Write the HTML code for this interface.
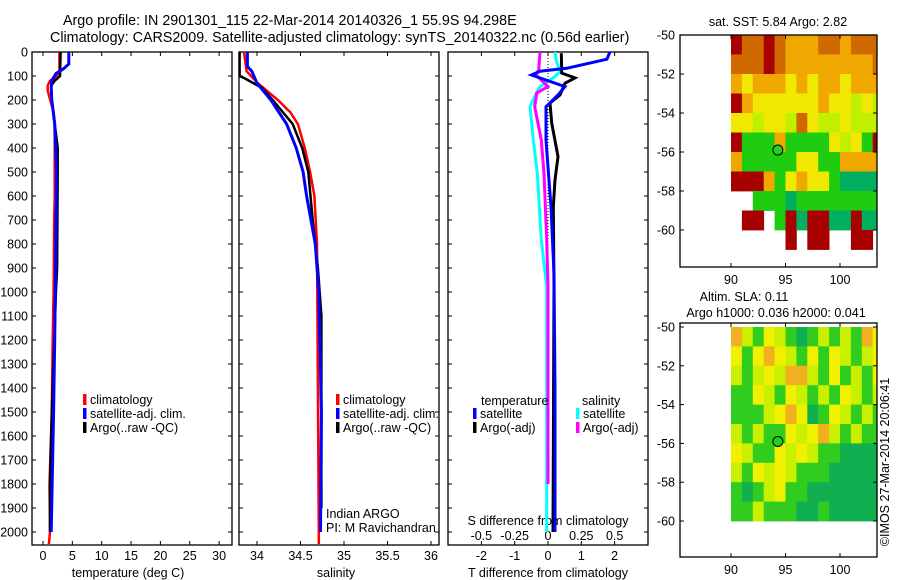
<!DOCTYPE html>
<html><head><meta charset="utf-8">
<style>
html,body{margin:0;padding:0;background:#fff;}
svg{display:block;font-family:"Liberation Sans",Arial,sans-serif;}
text{fill:#000;}
</style></head>
<body>
<svg id="chart" width="900" height="580" viewBox="0 0 900 580" xmlns="http://www.w3.org/2000/svg">
<text x="63" y="25" font-size="14.3">Argo profile: IN 2901301_115 22-Mar-2014 20140326_1 55.9S 94.298E</text>
<text x="50" y="42" font-size="14.3">Climatology: CARS2009. Satellite-adjusted climatology: synTS_20140322.nc (0.56d earlier)</text>
<g id="g"></g>
</svg>
<script>
// ---------- profile data ----------
const depthTick = [0,100,200,300,400,500,600,700,800,900,1000,1100,1200,1300,1400,1500,1600,1700,1800,1900,2000];
const tempTicks = [0,5,10,15,20,25,30];
const salTicks = [34,34.5,35,35.5,36];
const tdiffTicks = [-2,-1,0,1,2];
const sdiffTicks = [-0.5,-0.25,0,0.25,0.5];
const sdiffTickLabels = ["-0.5","-0.25","0","0.25","0.5"];

const tClimDepth = [0,80,100,120,140,160,190,250,300,600,700,1000,1200,1500,1800,2000,2050];
const tClimVal   = [2.8,2.8,2.3,1.2,0.8,0.8,1.1,1.8,2.0,2.0,1.9,1.8,1.65,1.5,1.1,1.2,1.0];
const tSatDepth = [0,50,70,90,120,150,200,300,500,1000,1200,1500,2000];
const tSatVal   = [4.4,4.4,3.5,2.2,1.5,1.4,1.5,2.0,2.3,2.1,2.0,1.8,1.4];
const tArgoDepth = [0,100,120,140,200,400,500,900,1000,1500,1800,2000];
const tArgoVal   = [3.0,2.9,2.0,1.4,1.5,2.5,2.5,2.4,2.2,1.5,1.2,1.2];

const sClimDepth = [0,80,130,200,250,300,400,500,600,800,2000,2050];
const sClimVal   = [33.85,33.88,34.01,34.24,34.38,34.47,34.55,34.61,34.66,34.69,34.71,34.71];
const sSatDepth = [0,60,80,130,200,300,400,500,600,800,1000,1500,2000];
const sSatVal   = [33.89,33.89,33.94,34.0,34.16,34.34,34.45,34.53,34.57,34.67,34.71,34.74,34.73];
const sArgoDepth = [0,100,110,150,200,300,400,500,700,900,1100,1500,1900];
const sArgoVal   = [33.8,33.8,33.86,34.06,34.18,34.41,34.52,34.59,34.64,34.70,34.74,34.74,34.74];

const dTSatDepth = [0,30,68,80,96,144,179,228,367,645,922,1400,2000];
const dTSatVal   = [1.86,1.77,0.56,-0.24,-0.5,0.51,0.3,-0.06,-0.06,0.09,0.18,0.21,0.21];
const dTArgoDepth = [5,88,108,130,179,213,296,436,533,645,978,2000];
const dTArgoVal   = [0.4,0.41,0.81,0.51,0.36,0.06,0.11,0.3,0.21,0.16,0.18,0.15];
const dSSatDepth = [0,33,82,103,144,186,228,367,505,783,978,2000];
const dSSatVal   = [0.053,0.06,0.09,0.05,-0.06,-0.10,-0.135,-0.11,-0.08,-0.05,-0.01,-0.01];
const dSArgoDepth = [0,75,96,117,144,171,228,367,505,783,978,1800];
const dSArgoVal   = [-0.06,-0.07,-0.09,-0.05,0,-0.085,-0.10,-0.05,-0.03,-0.01,0,0];

// ---------- map data (colour class per 1-degree cell, rows from north) ----------
const mapLon = [90,91,92,93,94,95,96,97,98,99,100,101,102,103];
const sstLat = [-50,-51,-52,-53,-54,-55,-56,-57,-58,-59,-60];
const sstGrid = [
[1,2,2,1,2,3,3,3,2,2,3,2,2,2],
[2,2,2,1,2,3,3,3,3,3,3,3,3,2],
[3,4,3,3,3,4,3,4,3,3,4,3,3,3],
[1,3,4,4,4,4,4,4,3,4,4,5,4,5],
[4,4,5,4,4,5,2,4,5,5,4,5,5,5],
[1,6,6,6,3,6,6,6,6,4,5,4,6,1],
[3,6,6,6,6,6,4,4,6,6,3,3,3,3],
[1,1,1,3,6,4,3,4,4,6,7,7,7,7],
[0,0,6,6,6,7,6,6,6,6,6,6,6,6],
[0,1,1,0,6,1,7,1,1,7,7,1,7,7],
[0,0,0,0,0,1,0,1,1,0,0,1,1,0]];
const slaLat = [-50,-51,-52,-53,-54,-55,-56,-57,-58,-59];
const slaGrid = [
[3,5,6,4,5,6,7,6,5,6,5,6,3,4],
[4,6,4,3,4,5,6,4,6,4,5,6,5,4],
[5,6,5,4,5,3,3,5,6,4,6,5,6,4],
[6,6,4,5,6,4,5,6,5,6,4,5,6,5],
[6,6,6,5,4,3,4,7,6,4,5,6,5,6],
[5,6,5,6,6,4,5,4,3,5,6,5,6,6],
[4,5,6,6,4,5,4,5,6,6,7,7,7,7],
[5,6,4,5,4,5,6,6,6,7,7,7,7,7],
[6,7,6,5,4,6,6,7,7,7,7,7,7,7],
[6,6,5,6,6,6,7,7,6,7,7,7,7,7]];
const mapLonTicks = [90,95,100];
const mapLatTicks = [-50,-52,-54,-56,-58,-60];
const argoLon = 94.3, argoLat = -55.9;

const palette = ["none","#a80000","#d06a00","#f0a800","#f0e800","#c0f000","#20cc10","#00b060"];
const slaPalette = ["none","#a80000","#e07020","#f0b020","#f0f000","#c8f000","#30cc20","#10b050"];

const NS="http://www.w3.org/2000/svg";
const G=document.getElementById('g');
function mk(tag,attrs,parent){const e=document.createElementNS(NS,tag);for(const k in attrs)e.setAttribute(k,attrs[k]);(parent||G).appendChild(e);return e;}
function txt(x,y,s,size,anchor,parent){const t=mk('text',{x:x,y:y,'font-size':size||12.5,'text-anchor':anchor||'start'},parent);t.textContent=s;return t;}

const yD = d => 52 + d*0.24;
const TOP=52, BOT=545;

function panel(name,x0,x1){
  const g=mk('g',{});
  
  
  const r=mk('rect',{x:x0,y:TOP,width:x1-x0,height:BOT-TOP,fill:'none',stroke:'#000','stroke-width':1.3},g);
  
  
  depthTick.forEach(d=>{
    mk('line',{x1:x0,x2:x0+4,y1:yD(d),y2:yD(d),stroke:'#000'},g);
    mk('line',{x1:x1,x2:x1-4,y1:yD(d),y2:yD(d),stroke:'#000'},g);
  });
  return g;
}
function profile(g,name,depths,vals,sx,color,w){
  let pts=[];
  for(let i=0;i<depths.length;i++){pts.push(sx(vals[i]).toFixed(1)+','+yD(depths[i]).toFixed(1));}
  const p=mk('polyline',{points:pts.join(' '),fill:'none',stroke:color,'stroke-width':w||3,'stroke-linejoin':'miter'},g);
  
  
}
function legend(g,x,y,color,label){
  const it=mk('g',{},g);
  
  
  mk('rect',{x:x,y:y-10,width:3.5,height:11,fill:color},it);
  txt(x+7,y,label,12.5,'start',it);
}

// ---- panel 1 temperature ----
const sxT = v => 43 + v*5.87;
const p1=panel('temperature-panel',32,232);
const ylab=mk('g',{});


depthTick.forEach(d=>txt(28,yD(d)+4.5,String(d),12.5,'end',ylab));
tempTicks.forEach(v=>{
  mk('line',{x1:sxT(v),x2:sxT(v),y1:BOT,y2:BOT-4,stroke:'#000'},p1);
  mk('line',{x1:sxT(v),x2:sxT(v),y1:TOP,y2:TOP+4,stroke:'#000'},p1);
  txt(sxT(v),560,String(v),12.5,'middle',p1);
});
const t1=txt(128,577,'temperature (deg C)',12.5,'middle',p1);

profile(p1,'temperature-climatology-line',tClimDepth,tClimVal,sxT,'#ff0000',2.5);
profile(p1,'temperature-argo-line',tArgoDepth,tArgoVal,sxT,'#000000',2.5);
profile(p1,'temperature-satellite-line',tSatDepth,tSatVal,sxT,'#0000ff',3);
legend(p1,83,404,'#ff0000','climatology');
legend(p1,83,418,'#0000ff','satellite-adj. clim.');
legend(p1,83,432,'#000000','Argo(..raw -QC)');

// ---- panel 2 salinity ----
const sxS = v => 257 + (v-34)*87;
const p2=panel('salinity-panel',239,439);
salTicks.forEach(v=>{
  mk('line',{x1:sxS(v),x2:sxS(v),y1:BOT,y2:BOT-4,stroke:'#000'},p2);
  mk('line',{x1:sxS(v),x2:sxS(v),y1:TOP,y2:TOP+4,stroke:'#000'},p2);
  txt(sxS(v),560,String(v),12.5,'middle',p2);
});
const t2=txt(336,577,'salinity',12.5,'middle',p2);

profile(p2,'salinity-climatology-line',sClimDepth,sClimVal,sxS,'#ff0000',2.5);
profile(p2,'salinity-argo-line',sArgoDepth,sArgoVal,sxS,'#000000',2.5);
profile(p2,'salinity-satellite-line',sSatDepth,sSatVal,sxS,'#0000ff',3);
legend(p2,336,404,'#ff0000','climatology');
legend(p2,336,418,'#0000ff','satellite-adj. clim.');
legend(p2,336,432,'#000000','Argo(..raw -QC)');
const pi=mk('g',{},p2);


txt(326,518,'Indian ARGO',12.5,'start',pi);
txt(326,532,'PI: M Ravichandran',12.5,'start',pi);

// ---- panel 3 differences ----
const sxdT = v => 548 + v*33.3;
const sxdS = v => 548 + v*133.3;
const p3=panel('difference-panel',448,648);
mk('line',{x1:548,x2:548,y1:TOP,y2:yD(1800),stroke:'#000','stroke-dasharray':'1,2'},p3);
tdiffTicks.forEach(v=>{
  mk('line',{x1:sxdT(v),x2:sxdT(v),y1:BOT,y2:BOT-4,stroke:'#000'},p3);
  mk('line',{x1:sxdT(v),x2:sxdT(v),y1:TOP,y2:TOP+4,stroke:'#000'},p3);
  txt(sxdT(v),560,String(v),12.5,'middle',p3);
});
sdiffTicks.forEach((v,i)=>txt(sxdS(v),540,sdiffTickLabels[i],12.5,'middle',p3));
const t3a=txt(548,525,'S difference from climatology',12.5,'middle',p3);

const t3b=txt(548,577,'T difference from climatology',12.5,'middle',p3);

profile(p3,'salinity-satellite-diff-line',dSSatDepth,dSSatVal,sxdS,'#00ffff',3);
profile(p3,'salinity-argo-diff-line',dSArgoDepth,dSArgoVal,sxdS,'#ff00ff',3);
profile(p3,'temperature-argo-diff-line',dTArgoDepth,dTArgoVal,sxdT,'#000000',3);
profile(p3,'temperature-satellite-diff-line',dTSatDepth,dTSatVal,sxdT,'#0000ff',3);
txt(481,405,'temperature',12.5,'start',p3);
txt(582,405,'salinity',12.5,'start',p3);
legend(p3,473,418,'#0000ff','satellite');
legend(p3,473,432,'#000000','Argo(-adj)');
legend(p3,576,418,'#00ffff','satellite');
legend(p3,576,432,'#ff00ff','Argo(-adj)');

// ---- maps ----
const mx = lon => 731 + (lon-90)*10.9;
function mapPanel(name,y0,y1,latTop,latScale,lats,grid,pal,titleLines){
  const g=mk('g',{});
  
  
  const my = lat => latTop + (-50-lat)*latScale;
  const clip=mk('clipPath',{id:name+'-clip'},g);
  mk('rect',{x:680,y:y0,width:197,height:y1-y0},clip);
  const cells=mk('g',{'clip-path':'url(#'+name+'-clip)'},g);
  for(let r=0;r<lats.length;r++){
    for(let c=0;c<mapLon.length;c++){
      const k=grid[r][c]; if(!k) continue;
      const cell=mk('rect',{x:mx(mapLon[c]).toFixed(1),y:my(lats[r]).toFixed(1),width:11.3,height:latScale+0.4,fill:pal[k]},cells);
      
      
    }
  }
  const fr=mk('rect',{x:680,y:y0,width:197,height:y1-y0,fill:'none',stroke:'#000','stroke-width':1.3},g);
  
  
  mapLonTicks.forEach(v=>{
    mk('line',{x1:mx(v),x2:mx(v),y1:y1,y2:y1-4,stroke:'#000'},g);
    mk('line',{x1:mx(v),x2:mx(v),y1:y0,y2:y0+4,stroke:'#000'},g);
    txt(mx(v),y1+17,String(v),12.5,'middle',g);
  });
  mapLatTicks.forEach(v=>{
    mk('line',{x1:680,x2:684,y1:my(v),y2:my(v),stroke:'#000'},g);
    mk('line',{x1:877,x2:873,y1:my(v),y2:my(v),stroke:'#000'},g);
    txt(675,my(v)+4.5,String(v),12.5,'end',g);
  });
  const dot=mk('circle',{cx:mx(argoLon),cy:my(argoLat),r:5,fill:'#20d020',stroke:'#000','stroke-width':1},g);
  
  
  titleLines.forEach(t=>{const e=txt(t[0],t[1],t[2],12.5,'middle',g);});
}
mapPanel('sst-map',35,267,35,19.5,sstLat,sstGrid,palette,[[778,26,'sat. SST: 5.84 Argo: 2.82']]);
mapPanel('sla-map',323,557,327,19.4,slaLat,slaGrid,slaPalette,[[744,301,'Altim. SLA: 0.11'],[776,317,'Argo h1000: 0.036 h2000: 0.041']]);

const im=txt(0,0,'\u00a9IMOS 27-Mar-2014 20:06:41',12.5,'middle');
im.setAttribute('transform','translate(889,462) rotate(-90)');


</script>
</body></html>
